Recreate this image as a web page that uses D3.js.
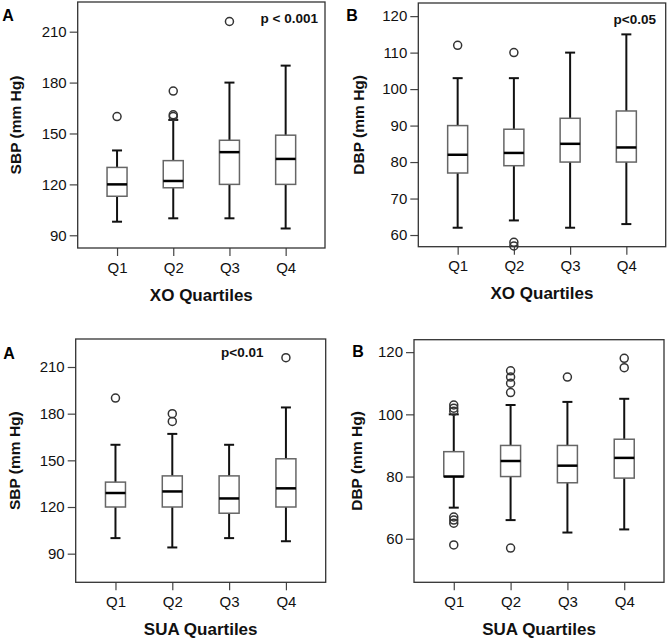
<!DOCTYPE html>
<html><head><meta charset="utf-8">
<script src="https://cdn.jsdelivr.net/npm/d3@7"></script>
<style>body{margin:0;background:#fff;} svg{display:block;font-family:"Liberation Sans",Arial,sans-serif;}</style>
</head><body>
<svg id="chart" width="668" height="638"></svg>
<script>
const categories = ["Q1","Q2","Q3","Q4"];

// Panel 1: SBP by XO quartiles
const p1Low    = [98, 100, 100, 94];
const p1Q1     = [113, 118, 120, 120];
const p1Median = [120, 122, 139, 135];
const p1Q3     = [130, 134, 146, 149];
const p1High   = [140, 158, 180, 190];
const p1Outliers = [[160],[160,161,175],[216],[]];
const p1Ticks = [90,120,150,180,210];

// Panel 2: DBP by XO quartiles
const p2Low    = [62, 64, 62, 63];
const p2Q1     = [77, 79, 80, 80];
const p2Median = [82, 82.5, 85, 84];
const p2Q3     = [90, 89, 92, 94];
const p2High   = [103, 103, 110, 115];
const p2Outliers = [[112],[110,58,57],[],[]];
const p2Ticks = [60,70,80,90,100,110,120];

// Panel 3: SBP by SUA quartiles
const p3Low    = [100, 94, 100, 98];
const p3Q1     = [120, 120, 116, 120];
const p3Median = [129, 130, 125.5, 132];
const p3Q3     = [136, 140, 140, 151];
const p3High   = [160, 167, 160, 184];
const p3Outliers = [[190],[175,180],[],[216]];
const p3Ticks = [90,120,150,180,210];

// Panel 4: DBP by SUA quartiles
const p4Low    = [70, 66, 62, 63];
const p4Q1     = [80, 80, 78, 79.5];
const p4Median = [80, 85, 83.5, 86];
const p4Q3     = [88, 90, 90, 92];
const p4High   = [100, 103, 104, 105];
const p4Outliers = [[101,102,103,67,66,65,58],[107,110,112,114,57],[112],[115,118]];
const p4Ticks = [60,80,100,120];

const panels = [
  {low:p1Low,q1:p1Q1,med:p1Median,q3:p1Q3,high:p1High,out:p1Outliers,ticks:p1Ticks,
   domain:[82.5,227.5], x0:77.7,x1:325,y0:2,y1:248, letter:"A", lx:8, ly:15,
   p:"p < 0.001", px:318, py:18, ytitle:"SBP (mm Hg)", ytx:16, xtitle:"XO Quartiles", xty:295},
  {low:p2Low,q1:p2Q1,med:p2Median,q3:p2Q3,high:p2High,out:p2Outliers,ticks:p2Ticks,
   domain:[56.8,123.6], x0:418.3,x1:665.7,y0:3,y1:246.7, letter:"B", lx:352, ly:15,
   p:"p<0.05", px:656, py:19, ytitle:"DBP (mm Hg)", ytx:359, xtitle:"XO Quartiles", xty:293},
  {low:p3Low,q1:p3Q1,med:p3Median,q3:p3Q3,high:p3High,out:p3Outliers,ticks:p3Ticks,
   domain:[71.6,228], x0:75.7,x1:325.7,y0:339,y1:582.3, letter:"A", lx:9, ly:353,
   p:"p<0.01", px:263.5, py:352, ytitle:"SBP (mm Hg)", ytx:15, xtitle:"SUA Quartiles", xty:629.5},
  {low:p4Low,q1:p4Q1,med:p4Median,q3:p4Q3,high:p4High,out:p4Outliers,ticks:p4Ticks,
   domain:[46,124], x0:414,x1:664,y0:339.7,y1:582.3, letter:"B", lx:358, ly:351,
   p:null, ytitle:"DBP (mm Hg)", ytx:356.5, xtitle:"SUA Quartiles", xty:629.5}
];

const svg = d3.select("#chart");
const boxW = 20, capW = 10;

panels.forEach(P => {
  const g = svg.append("g");
  const x = d3.scalePoint().domain(categories).range([P.x0, P.x1]).padding(0.7);
  const y = d3.scaleLinear().domain(P.domain).range([P.y1, P.y0]);

  // y axis
  const ya = g.append("g").attr("transform", `translate(${P.x0},0)`)
    .call(d3.axisLeft(y).tickValues(P.ticks).tickSize(8).tickPadding(3).tickFormat(d3.format("d")));
  ya.select(".domain").remove();
  ya.selectAll("line").attr("stroke","#444").attr("stroke-width",1.2);
  ya.selectAll("text").attr("font-size",15).attr("fill","#111")
    .attr("font-family","'Liberation Sans',Arial,sans-serif");

  // x axis
  const xa = g.append("g").attr("transform", `translate(0,${P.y1})`)
    .call(d3.axisBottom(x).tickSize(8).tickPadding(6));
  xa.select(".domain").remove();
  xa.selectAll("line").attr("stroke","#444").attr("stroke-width",1.2);
  xa.selectAll("text").attr("font-size",15).attr("fill","#111")
    .attr("font-family","'Liberation Sans',Arial,sans-serif");

  // frame
  g.append("rect").attr("x",P.x0).attr("y",P.y0)
    .attr("width",P.x1-P.x0).attr("height",P.y1-P.y0)
    .attr("fill","none").attr("stroke","#333").attr("stroke-width",1.3);

  const rows = categories.map((c,i)=>({c, low:P.low[i], q1:P.q1[i], med:P.med[i], q3:P.q3[i], high:P.high[i], out:P.out[i]}));

  // whiskers
  g.selectAll(".wl").data(rows).join("line")
    .attr("x1",d=>x(d.c)).attr("x2",d=>x(d.c))
    .attr("y1",d=>y(d.low)).attr("y2",d=>y(d.high))
    .attr("stroke","#111").attr("stroke-width",2);
  // caps
  ["low","high"].forEach(k=>{
    g.selectAll(".cap"+k).data(rows).join("line")
      .attr("x1",d=>x(d.c)-capW/2).attr("x2",d=>x(d.c)+capW/2)
      .attr("y1",d=>y(d[k])).attr("y2",d=>y(d[k]))
      .attr("stroke","#111").attr("stroke-width",2);
  });
  // boxes
  g.selectAll(".box").data(rows).join("rect")
    .attr("x",d=>x(d.c)-boxW/2).attr("width",boxW)
    .attr("y",d=>y(d.q3)).attr("height",d=>y(d.q1)-y(d.q3))
    .attr("fill","#fff").attr("stroke","#666").attr("stroke-width",1.5);
  // medians
  g.selectAll(".med").data(rows).join("line")
    .attr("x1",d=>x(d.c)-boxW/2).attr("x2",d=>x(d.c)+boxW/2)
    .attr("y1",d=>y(d.med)).attr("y2",d=>y(d.med))
    .attr("stroke","#000").attr("stroke-width",2.5);
  // outliers
  const outs = rows.flatMap(d=>d.out.map(v=>({c:d.c,v})));
  g.selectAll(".out").data(outs).join("circle")
    .attr("cx",d=>x(d.c)).attr("cy",d=>y(d.v)).attr("r",4)
    .attr("fill","none").attr("stroke","#333").attr("stroke-width",1.5);

  // panel letter
  g.append("text").attr("x",P.lx).attr("y",P.ly).attr("dy","0.35em")
    .attr("text-anchor","middle").attr("font-size",16).attr("font-weight","bold").text(P.letter);
  // p-value
  if (P.p) g.append("text").attr("x",P.px).attr("y",P.py).attr("dy","0.35em")
    .attr("text-anchor","end").attr("font-size",13.5).attr("font-weight","bold").attr("fill","#111").text(P.p);
  // y title
  const cy = (P.y0+P.y1)/2;
  g.append("text").attr("transform",`translate(${P.ytx},${cy}) rotate(-90)`)
    .attr("dy","0.35em").attr("text-anchor","middle")
    .attr("font-size",15.5).attr("font-weight","bold").attr("fill","#111").text(P.ytitle);
  // x title
  g.append("text").attr("x",(P.x0+P.x1)/2).attr("y",P.xty).attr("dy","0.35em")
    .attr("text-anchor","middle").attr("font-size",17).attr("font-weight","bold").attr("fill","#111").text(P.xtitle);
});
</script>
</body></html>
